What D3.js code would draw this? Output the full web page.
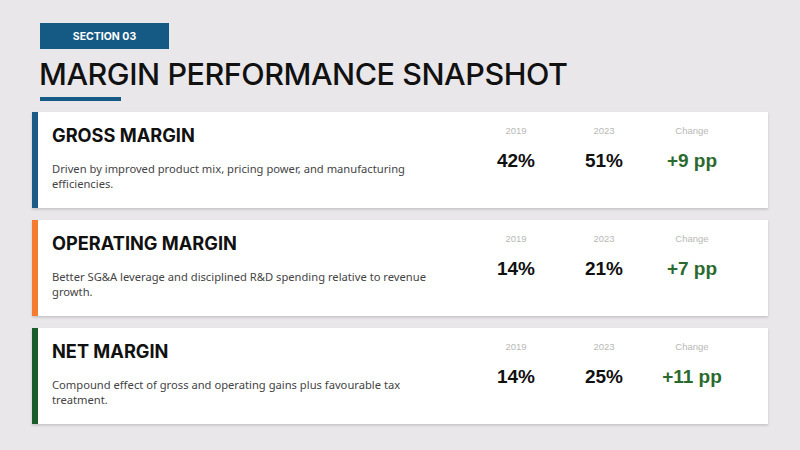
<!DOCTYPE html>
<html>
<head>
<meta charset="utf-8">
<script src="https://cdn.jsdelivr.net/npm/d3@7/dist/d3.min.js"></script>
<style>
  html, body { margin: 0; padding: 0; background: #e9e7ea; }
  svg { display: block; }
</style>
</head>
<body>
<svg id="chart" width="800" height="450"></svg>
<script>
// ---- data ----
const metrics = ["GROSS MARGIN", "OPERATING MARGIN", "NET MARGIN"];
const descriptions = [
  ["Driven by improved product mix, pricing power, and manufacturing", "efficiencies."],
  ["Better SG&A leverage and disciplined R&D spending relative to revenue", "growth."],
  ["Compound effect of gross and operating gains plus favourable tax", "treatment."]
];
const values2019 = [42, 14, 14];
const values2023 = [51, 21, 25];
const changesPP = [9, 7, 11];
const columns = ["2019", "2023", "Change"];
const accentColors = ["#1b5a87", "#f47b30", "#1d5c2b"];

const sectionLabel = "SECTION 03";
const titleText = "MARGIN PERFORMANCE SNAPSHOT";

// ---- layout ----
const svg = d3.select("#chart");
const W = 800, H = 450;
svg.append("rect").attr("width", W).attr("height", H).attr("fill", "#e9e7ea");

const defs = svg.append("defs");
const f = defs.append("filter").attr("id", "shadow").attr("x", "-5%").attr("y", "-10%").attr("width", "110%").attr("height", "130%");
f.append("feDropShadow").attr("dx", 0).attr("dy", 1.5).attr("stdDeviation", 1.2).attr("flood-color", "#000").attr("flood-opacity", 0.16);

// header
svg.append("rect").attr("x", 40).attr("y", 23).attr("width", 129).attr("height", 26).attr("fill", "#155a85");
svg.append("text").attr("x", 104.5).attr("y", 40).attr("text-anchor", "middle")
  .attr("font-family", "Inter, 'Noto Sans', sans-serif").attr("font-weight", 700).attr("font-size", 10.5)
  .attr("fill", "#ffffff").text(sectionLabel);
svg.append("text").attr("x", 39).attr("y", 85)
  .attr("font-family", "Inter, 'Noto Sans', sans-serif").attr("font-weight", 500).attr("font-size", 30.5)
  .attr("fill", "#111111").attr("letter-spacing", -0.45).text(titleText);
svg.append("rect").attr("x", 40).attr("y", 97).attr("width", 81).attr("height", 4).attr("fill", "#155a85");

// scales
const y = d3.scaleBand().domain(metrics).range([112, 424]).paddingInner(12 / 108).paddingOuter(0);
const x = d3.scalePoint().domain(columns).range([516, 692]);

const rows = svg.selectAll("g.row").data(metrics.map((m, i) => ({
  m, i, desc: descriptions[i], v19: values2019[i], v23: values2023[i], ch: changesPP[i], color: accentColors[i]
}))).join("g").attr("class", "row").attr("transform", d => `translate(0,${y(d.m)})`);

rows.append("rect").attr("x", 32).attr("y", 0).attr("width", 736).attr("height", y.bandwidth())
  .attr("fill", "#ffffff").attr("filter", "url(#shadow)");
rows.append("rect").attr("x", 32).attr("y", 0).attr("width", 6).attr("height", y.bandwidth())
  .attr("fill", d => d.color);

rows.append("text").attr("x", 52).attr("y", 30)
  .attr("font-family", "Inter, 'Noto Sans', sans-serif").attr("font-weight", 700).attr("font-size", 18.2)
  .attr("fill", "#111111").text(d => d.m);

rows.append("text").attr("x", 52).attr("y", 61)
  .attr("font-family", "'Noto Sans', Inter, sans-serif").attr("font-size", 11.2).attr("fill", "#444444")
  .selectAll("tspan").data(d => d.desc).join("tspan")
  .attr("x", 52).attr("dy", (d, i) => i === 0 ? 0 : 15).text(d => d);

columns.forEach((c, ci) => {
  rows.append("text").attr("x", x(c)).attr("y", 22).attr("text-anchor", "middle")
    .attr("font-family", "'Liberation Sans', Arial, sans-serif").attr("font-size", 9.5)
    .attr("fill", "#b8b8b8").text(c);
});
rows.append("text").attr("x", x("2019")).attr("y", 55).attr("text-anchor", "middle")
  .attr("font-family", "'Liberation Sans', Arial, sans-serif").attr("font-weight", 700).attr("font-size", 19)
  .attr("fill", "#111111").text(d => d.v19 + "%");
rows.append("text").attr("x", x("2023")).attr("y", 55).attr("text-anchor", "middle")
  .attr("font-family", "'Liberation Sans', Arial, sans-serif").attr("font-weight", 700).attr("font-size", 19)
  .attr("fill", "#111111").text(d => d.v23 + "%");
rows.append("text").attr("x", x("Change")).attr("y", 55).attr("text-anchor", "middle")
  .attr("font-family", "'Liberation Sans', Arial, sans-serif").attr("font-weight", 700).attr("font-size", 19)
  .attr("fill", "#2a6a2e").text(d => "+" + d.ch + " pp");
</script>
</body>
</html>
